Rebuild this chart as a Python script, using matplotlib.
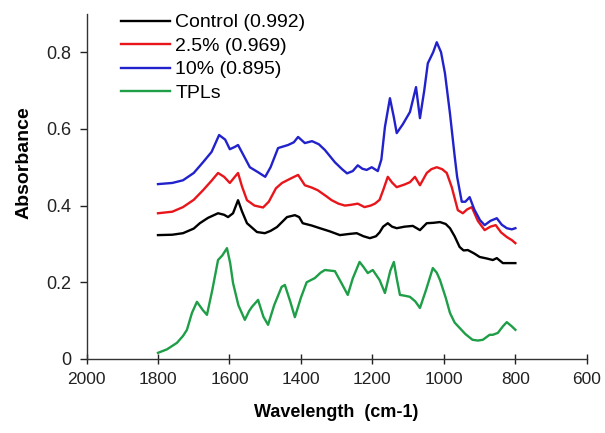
import numpy as np
import matplotlib.pyplot as plt

plt.rcParams['font.family'] = ['Liberation Sans', 'DejaVu Sans']

# blue: 10% (0.895)
blue_x = [1800, 1760, 1730, 1700, 1674, 1650, 1629, 1612, 1599, 1585, 1576, 1560, 1543, 1520, 1500,
          1485, 1464, 1436, 1420, 1408, 1389, 1369, 1350, 1333, 1305, 1285, 1271, 1255, 1241, 1228,
          1216, 1202, 1185, 1175, 1165, 1151, 1140, 1132, 1115, 1095, 1078, 1067, 1055, 1045, 1030,
          1020, 1008, 997, 983, 970, 963, 950, 940, 928, 915, 899, 886, 870, 852, 838, 824, 810, 800]
blue_y = [0.456, 0.459, 0.466, 0.485, 0.513, 0.54, 0.584, 0.572, 0.547, 0.553, 0.558, 0.53, 0.50, 0.487, 0.475,
          0.50, 0.55, 0.558, 0.565, 0.579, 0.563, 0.568, 0.56, 0.545, 0.513, 0.495, 0.484, 0.49, 0.505, 0.496,
          0.493, 0.50, 0.49, 0.52, 0.605, 0.68, 0.63, 0.589, 0.612, 0.644, 0.709, 0.628, 0.70, 0.771, 0.80,
          0.826, 0.80, 0.745, 0.64, 0.53, 0.475, 0.41, 0.41, 0.422, 0.39, 0.362, 0.349, 0.36, 0.367, 0.35, 0.341, 0.338, 0.341]

# red: 2.5% (0.969)
red_x = [1800, 1760, 1730, 1700, 1674, 1650, 1632, 1615, 1599, 1585, 1576, 1565, 1551, 1530, 1506,
         1490, 1470, 1453, 1430, 1408, 1389, 1370, 1353, 1330, 1314, 1295, 1277, 1260, 1241, 1222,
         1205, 1193, 1180, 1170, 1157, 1145, 1132, 1110, 1095, 1081, 1067, 1048, 1035, 1020, 1005,
         992, 978, 961, 947, 935, 922, 905, 886, 870, 855, 840, 824, 810, 800]
red_y = [0.38, 0.384, 0.396, 0.415, 0.44, 0.465, 0.485, 0.475, 0.459, 0.475, 0.485, 0.45, 0.414, 0.40, 0.395,
         0.41, 0.445, 0.459, 0.47, 0.48, 0.453, 0.447, 0.44, 0.425, 0.414, 0.405, 0.40, 0.402, 0.405, 0.396,
         0.40, 0.405, 0.415, 0.44, 0.475, 0.46, 0.448, 0.455, 0.461, 0.475, 0.453, 0.485, 0.495, 0.50, 0.495,
         0.485, 0.448, 0.388, 0.38, 0.39, 0.396, 0.36, 0.336, 0.345, 0.349, 0.33, 0.318, 0.31, 0.302]

# black: Control (0.992)
black_x = [1800, 1760, 1730, 1700, 1683, 1660, 1632, 1615, 1604, 1590, 1576, 1565, 1551, 1523, 1501,
           1485, 1467, 1439, 1417, 1405, 1395, 1370, 1347, 1320, 1291, 1265, 1244, 1225, 1207, 1190,
           1180, 1170, 1157, 1145, 1132, 1110, 1087, 1067, 1048, 1030, 1011, 995, 983, 970, 956,
           945, 933, 915, 900, 880, 863, 852, 835, 815, 800]
black_y = [0.323, 0.324, 0.328, 0.34, 0.354, 0.368, 0.38, 0.376, 0.37, 0.38, 0.414, 0.385, 0.354, 0.331, 0.328,
           0.334, 0.344, 0.37, 0.375, 0.37, 0.354, 0.348, 0.341, 0.333, 0.323, 0.326, 0.328, 0.32, 0.315, 0.32,
           0.33, 0.345, 0.354, 0.345, 0.341, 0.345, 0.347, 0.336, 0.354, 0.355, 0.357, 0.352, 0.341, 0.32, 0.292,
           0.283, 0.284, 0.275, 0.266, 0.262, 0.258, 0.263, 0.25, 0.25, 0.25]

# green: TPLs
green_x = [1800, 1775, 1747, 1730, 1719, 1705, 1691, 1675, 1663, 1648, 1632, 1620, 1607, 1598, 1590,
           1575, 1557, 1545, 1537, 1520, 1505, 1492, 1475, 1454, 1445, 1430, 1417, 1400, 1384, 1361,
           1345, 1333, 1305, 1285, 1269, 1255, 1236, 1225, 1213, 1199, 1180, 1165, 1150, 1140, 1132,
           1123, 1110, 1095, 1080, 1067, 1050, 1031, 1020, 1011, 995, 983, 970, 956, 940, 920,
           905, 891, 872, 863, 849, 835, 824, 810, 800]
green_y = [0.016, 0.025, 0.042, 0.06, 0.076, 0.12, 0.149, 0.128, 0.115, 0.18, 0.258, 0.27, 0.289, 0.25, 0.198,
           0.14, 0.102, 0.125, 0.136, 0.154, 0.11, 0.089, 0.14, 0.188, 0.193, 0.15, 0.109, 0.16, 0.20, 0.211,
           0.225, 0.232, 0.229, 0.195, 0.167, 0.21, 0.253, 0.24, 0.224, 0.232, 0.206, 0.172, 0.23, 0.253, 0.21,
           0.167, 0.165, 0.162, 0.15, 0.133, 0.18, 0.237, 0.225, 0.206, 0.16, 0.12, 0.095, 0.081, 0.065, 0.05,
           0.048, 0.05, 0.063, 0.063, 0.068, 0.085, 0.096, 0.085, 0.076]

labels = ['Control (0.992)', '2.5% (0.969)', '10% (0.895)', 'TPLs']
x_ticks = [2000, 1800, 1600, 1400, 1200, 1000, 800, 600]
y_ticks = [0, 0.2, 0.4, 0.6, 0.8]
y_ticklabels = ['0', '0.2', '0.4', '0.6', '0.8']

fig = plt.figure(figsize=(6.05, 4.33), dpi=100)
ax = fig.add_axes([0.143, 0.171, 0.827, 0.797])

lw = 1.7
ax.plot(black_x, black_y, color='black', lw=lw, label=labels[0])
ax.plot(red_x, red_y, color='#e8161b', lw=lw, label=labels[1])
ax.plot(blue_x, blue_y, color='#2222cc', lw=lw, label=labels[2])
ax.plot(green_x, green_y, color='#1e9e46', lw=lw, label=labels[3])

ax.set_xlim(2000, 600)
ax.set_ylim(0, 0.9)
ax.set_xticks(x_ticks)
ax.set_xticklabels([str(t) for t in x_ticks])
ax.set_yticks(y_ticks)
ax.set_yticklabels(y_ticklabels)

for s in ['top', 'right']:
    ax.spines[s].set_visible(False)
for s in ['left', 'bottom']:
    ax.spines[s].set_color('#333333')
    ax.spines[s].set_linewidth(1.0)

ax.tick_params(axis='y', direction='out', length=5, width=1, pad=6, labelsize=13, colors='#222222')
ax.tick_params(axis='x', direction='inout', length=7, width=1, pad=6, labelsize=12.5, colors='#222222')

ax.set_xlabel('Wavelength  (cm-1)', fontsize=13, fontweight='bold', labelpad=12)
ax.set_ylabel('Absorbance', fontsize=14, fontweight='bold')
ax.yaxis.set_label_coords(-0.108, 0.568)

ax.legend(loc='upper left', bbox_to_anchor=(0.069, 1.0), frameon=False, fontsize=14,
          handlelength=2.5, handletextpad=0.3, labelspacing=0.3, borderpad=0, borderaxespad=0)

fig.savefig('out.png', dpi=100)
